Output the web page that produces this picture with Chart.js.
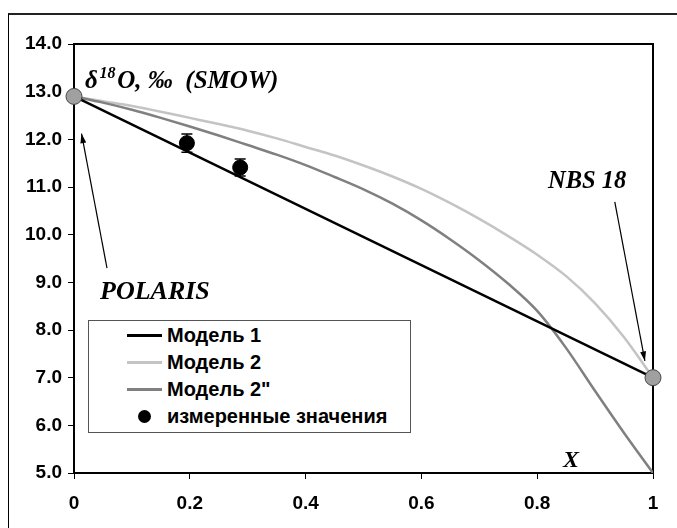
<!DOCTYPE html>
<html>
<head>
<meta charset="utf-8">
<script src="https://cdn.jsdelivr.net/npm/chart.js@4.4.1/dist/chart.umd.min.js"></script>
<style>
  body { margin: 0; background: #fff; }
  #wrap { position: relative; width: 677px; height: 528px; overflow: hidden; background: #fff; }
  #frame { position: absolute; left: 8px; top: 13px; width: 800px; height: 800px;
           border-top: 2px solid #222; border-left: 1px solid #000; }
  canvas { position: absolute; left: 0; top: 0; }
  .note { position: absolute; font-family: "Liberation Serif", "Times New Roman", serif;
          font-weight: bold; font-style: italic; line-height: 1; white-space: nowrap; color: #000; }
  .note sup { font-size: 0.64em; position: relative; top: -0.12em; vertical-align: top; margin: 0 0.12em 0 0.1em; }
  #legend { position: absolute; left: 88px; top: 320px; width: 321px; height: 110px;
            border: 1px solid #555; background: #fff; padding-top: 1px;
            font-family: "Liberation Sans", Arial, sans-serif; font-weight: bold; font-size: 20px; }
  #legend .row { height: 27px; display: flex; align-items: center; }
  #legend .swatch { width: 35px; margin-left: 38px; margin-right: 5px; display: flex;
                    align-items: center; justify-content: center; }
</style>
</head>
<body>
<div id="wrap">
  <div id="frame"></div>
  <canvas id="chart" width="677" height="528"></canvas>
  <div class="note" style="left:85px; top:67px; font-size:25px;">&delta;<sup>18</sup>O, &permil;&nbsp; (SMOW)</div>
  <div class="note" style="left:100px; top:278px; font-size:26px;">POLARIS</div>
  <div class="note" style="left:548px; top:168px; font-size:24.5px;">NBS 18</div>
  <div class="note" style="left:563px; top:447px; font-size:24px;">X</div>
  <div id="legend"></div>
</div>
<script>
// model curves, x = mixing fraction
const xModel = [0, 0.05, 0.1, 0.15, 0.2, 0.25, 0.3, 0.35, 0.4, 0.45, 0.5,
                0.55, 0.6, 0.65, 0.7, 0.75, 0.8, 0.85, 0.9, 0.95, 1];
const model2 = [12.9, 12.8, 12.7, 12.58, 12.45, 12.32, 12.18, 12.02, 11.84, 11.66, 11.45,
                11.22, 10.96, 10.66, 10.33, 9.97, 9.58, 9.13, 8.56, 7.85, 7.0];
const model2b = [12.9, 12.77, 12.62, 12.45, 12.27, 12.08, 11.88, 11.68, 11.46, 11.21, 10.95,
                 10.65, 10.3, 9.9, 9.46, 8.97, 8.4, 7.62, 6.72, 5.84, 5.0];

// model 1 is a straight mixing line between the two standards
const model1X = [0, 1];
const model1Y = [12.9, 7.0];

// end members: POLARIS (x=0) and NBS 18 (x=1)
const endX = [0, 1];
const endY = [12.9, 7.0];

// measured values with errors
const measX = [0.195, 0.287];
const measY = [11.92, 11.41];
const measErr = [0.19, 0.18];

const seriesNames = ['Модель 1', 'Модель 2', 'Модель 2"', 'измеренные значения'];
const xTicks = [0, 0.2, 0.4, 0.6, 0.8, 1];

const toPts = (xs, ys) => xs.map((x, i) => ({ x: x, y: ys[i] }));

const datasets = [
  { label: seriesNames[3], data: toPts(measX, measY), showLine: false, order: 0,
    pointRadius: 7.5, pointBackgroundColor: '#000', pointBorderColor: '#000', err: measErr },
  { label: 'ends', data: toPts(endX, endY), showLine: false, order: 1, clip: false,
    pointRadius: 8, pointBackgroundColor: '#a0a0a0', pointBorderColor: '#444', pointBorderWidth: 1 },
  { label: seriesNames[0], data: toPts(model1X, model1Y), order: 2,
    borderColor: '#000', borderWidth: 2.5, pointRadius: 0 },
  { label: seriesNames[2], data: toPts(xModel, model2b), order: 3,
    borderColor: '#808080', borderWidth: 2.5, pointRadius: 0, cubicInterpolationMode: 'monotone' },
  { label: seriesNames[1], data: toPts(xModel, model2), order: 4,
    borderColor: '#c4c4c4', borderWidth: 2.5, pointRadius: 0, cubicInterpolationMode: 'monotone' }
];

// error bars under the measured points
const errorBars = {
  id: 'errorBars',
  beforeDatasetsDraw(chart) {
    const ctx = chart.ctx, xs = chart.scales.x, ys = chart.scales.y;
    const ds = chart.data.datasets[0];
    ctx.save();
    ctx.strokeStyle = '#000';
    ctx.lineWidth = 1.5;
    ds.data.forEach((p, i) => {
      const px = xs.getPixelForValue(p.x);
      const top = ys.getPixelForValue(p.y + ds.err[i]);
      const bot = ys.getPixelForValue(p.y - ds.err[i]);
      ctx.beginPath();
      ctx.moveTo(px, top); ctx.lineTo(px, bot);
      ctx.moveTo(px - 5.5, top); ctx.lineTo(px + 5.5, top);
      ctx.moveTo(px - 5.5, bot); ctx.lineTo(px + 5.5, bot);
      ctx.stroke();
    });
    ctx.restore();
  }
};

// box around the plot area
const plotBox = {
  id: 'plotBox',
  beforeDatasetsDraw(chart) {
    const a = chart.chartArea, ctx = chart.ctx;
    ctx.save();
    ctx.strokeStyle = '#000';
    ctx.lineWidth = 2;
    ctx.strokeRect(a.left, a.top, a.right - a.left, a.bottom - a.top);
    ctx.restore();
  }
};

// pointer arrows to the standards, given in data units
const arrows = [
  { from: [0.057, 9.3], to: [0.013, 12.12] },
  { from: [0.934, 10.69], to: [0.986, 7.35] }
];
const arrowPlugin = {
  id: 'arrows',
  afterDatasetsDraw(chart) {
    const ctx = chart.ctx, xs = chart.scales.x, ys = chart.scales.y;
    ctx.save();
    ctx.strokeStyle = '#000';
    ctx.fillStyle = '#000';
    ctx.lineWidth = 1.2;
    arrows.forEach(a => {
      const x1 = xs.getPixelForValue(a.from[0]), y1 = ys.getPixelForValue(a.from[1]);
      const x2 = xs.getPixelForValue(a.to[0]), y2 = ys.getPixelForValue(a.to[1]);
      const ang = Math.atan2(y2 - y1, x2 - x1);
      ctx.beginPath();
      ctx.moveTo(x1, y1); ctx.lineTo(x2, y2);
      ctx.stroke();
      ctx.beginPath();
      ctx.moveTo(x2, y2);
      ctx.lineTo(x2 - 10 * Math.cos(ang - 0.3), y2 - 10 * Math.sin(ang - 0.3));
      ctx.lineTo(x2 - 10 * Math.cos(ang + 0.3), y2 - 10 * Math.sin(ang + 0.3));
      ctx.closePath();
      ctx.fill();
    });
    ctx.restore();
  }
};

const tickFont = { family: '"Liberation Sans", Arial, sans-serif', size: 19, weight: 'bold' };

const chart = new Chart(document.getElementById('chart'), {
  type: 'line',
  data: { datasets: datasets },
  options: {
    responsive: false,
    animation: false,
    layout: { padding: { top: 44, right: 24, left: 0, bottom: 0 } },
    plugins: { legend: { display: false }, tooltip: { enabled: false } },
    scales: {
      x: {
        type: 'linear', min: 0, max: 1,
        afterFit: s => { s.height = 55; },
        afterBuildTicks: s => { s.ticks = xTicks.map(v => ({ value: v })); },
        ticks: {
          color: '#000', font: tickFont, padding: 13, maxRotation: 0,
          callback: v => (Math.abs(v) < 1e-9 || Math.abs(v - 1) < 1e-9) ? String(Math.round(v)) : v.toFixed(1)
        },
        grid: { drawOnChartArea: false, drawTicks: true, tickLength: 6, color: '#000', lineWidth: 1 },
        border: { display: true, color: '#000', width: 2 }
      },
      y: {
        min: 5, max: 14,
        afterFit: s => { s.width = 74; },
        ticks: { stepSize: 1, color: '#000', font: tickFont, padding: 6, callback: v => v.toFixed(1) },
        grid: { drawOnChartArea: false, drawTicks: true, tickLength: 6, color: '#000', lineWidth: 1 },
        border: { display: true, color: '#000', width: 2 }
      }
    }
  },
  plugins: [plotBox, errorBars, arrowPlugin]
});

// legend built from the dataset styles
const legend = document.getElementById('legend');
[2, 4, 3, 0].forEach(i => {
  const ds = chart.data.datasets[i];
  const row = document.createElement('div');
  row.className = 'row';
  const sw = document.createElement('div');
  sw.className = 'swatch';
  const mark = document.createElement('div');
  if (ds.showLine === false) {
    mark.style.cssText = 'width:13px;height:13px;border-radius:50%;background:' + ds.pointBackgroundColor;
  } else {
    mark.style.cssText = 'width:35px;height:' + ds.borderWidth + 'px;background:' + ds.borderColor;
  }
  sw.appendChild(mark);
  const txt = document.createElement('span');
  txt.textContent = ds.label;
  row.appendChild(sw);
  row.appendChild(txt);
  legend.appendChild(row);
});
</script>
</body>
</html>
